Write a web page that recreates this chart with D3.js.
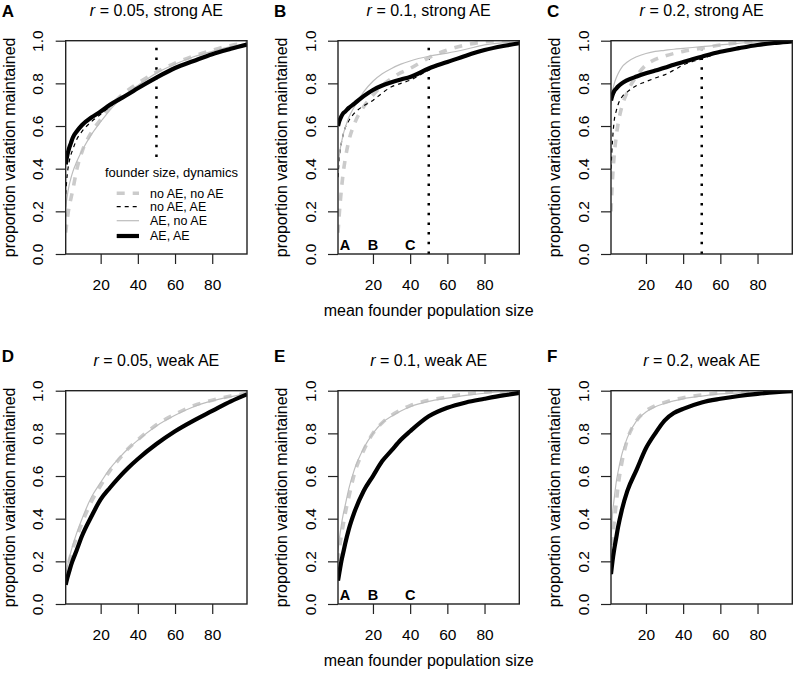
<!DOCTYPE html>
<html>
<head>
<meta charset="utf-8">
<script src="https://cdn.jsdelivr.net/npm/d3@7"></script>
<style>
  html, body { margin: 0; padding: 0; background: #fff; }
  svg { display: block; font-family: "Liberation Sans", Arial, Helvetica, sans-serif; }
</style>
</head>
<body>
<svg id="chart" width="795" height="673"></svg>
<script>
// ---------- data ----------
const xs = [1.2, 2, 3, 4, 5, 7, 10, 15, 20, 25, 30, 35, 40, 50, 60, 70, 80, 90, 98.7];

const seriesNames = ["no AE, no AE", "no AE, AE", "AE, no AE", "AE, AE"];
const legendTitle = "founder size, dynamics";
const xTicks = [20, 40, 60, 80];
const yTicks = [0, 0.2, 0.4, 0.6, 0.8, 1.0];
const xLabel = "mean founder population size";
const yLabel = "proportion variation maintained";
const panelLetters = ["A", "B", "C", "D", "E", "F"];
const rValues = ["0.05", "0.1", "0.2"];
const strengths = ["strong AE", "weak AE"];
const markLetters = ["A", "B", "C"];
const markX = [5, 20, 40];
const vlineX = 50;

// Panel A: r = 0.05, strong AE
const A_noAE_noAE = [0.10, 0.16, 0.22, 0.26, 0.30, 0.39, 0.48, 0.57, 0.63, 0.69, 0.735, 0.77, 0.80, 0.853, 0.895, 0.928, 0.955, 0.978, 0.99];
const A_noAE_AE   = [0.28, 0.37, 0.43, 0.465, 0.49, 0.535, 0.575, 0.62, 0.655, 0.69, 0.72, 0.75, 0.775, 0.825, 0.87, 0.905, 0.935, 0.96, 0.982];
const A_AE_noAE   = [0.22, 0.27, 0.32, 0.355, 0.385, 0.43, 0.485, 0.56, 0.62, 0.675, 0.72, 0.76, 0.79, 0.848, 0.89, 0.925, 0.95, 0.972, 0.985];
const A_AE_AE     = [0.42, 0.46, 0.495, 0.52, 0.545, 0.573, 0.605, 0.64, 0.668, 0.70, 0.725, 0.75, 0.777, 0.827, 0.872, 0.905, 0.937, 0.962, 0.982];

// Panel B: r = 0.1, strong AE
const B_noAE_noAE = [0.10, 0.20, 0.30, 0.38, 0.44, 0.53, 0.61, 0.69, 0.745, 0.79, 0.823, 0.85, 0.87, 0.92, 0.956, 0.98, 0.995, 1.0, 1.0];
const B_noAE_AE   = [0.36, 0.46, 0.52, 0.56, 0.59, 0.625, 0.66, 0.695, 0.72, 0.755, 0.784, 0.80, 0.815, 0.862, 0.9, 0.93, 0.956, 0.975, 0.988];
const B_AE_noAE   = [0.40, 0.47, 0.52, 0.56, 0.59, 0.64, 0.69, 0.76, 0.81, 0.845, 0.87, 0.89, 0.905, 0.927, 0.942, 0.96, 0.98, 0.99, 0.995];
const B_AE_AE     = [0.60, 0.625, 0.645, 0.66, 0.667, 0.685, 0.705, 0.74, 0.769, 0.79, 0.805, 0.818, 0.83, 0.87, 0.90, 0.93, 0.956, 0.975, 0.988];

// Panel C: r = 0.2, strong AE
const C_noAE_noAE = [0.20, 0.35, 0.47, 0.55, 0.61, 0.69, 0.76, 0.835, 0.886, 0.912, 0.928, 0.94, 0.95, 0.965, 0.98, 0.99, 0.995, 0.998, 1.0];
const C_noAE_AE   = [0.40, 0.53, 0.63, 0.67, 0.70, 0.735, 0.76, 0.79, 0.808, 0.825, 0.84, 0.862, 0.886, 0.915, 0.945, 0.965, 0.98, 0.99, 0.997];
const C_AE_noAE   = [0.70, 0.76, 0.80, 0.825, 0.845, 0.875, 0.90, 0.925, 0.94, 0.95, 0.955, 0.96, 0.964, 0.972, 0.98, 0.988, 0.994, 0.997, 0.999];
const C_AE_AE     = [0.72, 0.745, 0.765, 0.775, 0.785, 0.80, 0.815, 0.832, 0.847, 0.86, 0.873, 0.887, 0.90, 0.925, 0.948, 0.965, 0.98, 0.99, 0.997];

// Panel D: r = 0.05, weak AE
const D_noAE_noAE = [0.12, 0.16, 0.20, 0.23, 0.26, 0.31, 0.38, 0.48, 0.555, 0.625, 0.68, 0.73, 0.77, 0.84, 0.89, 0.93, 0.955, 0.975, 0.988];
const D_noAE_AE   = [0.09, 0.12, 0.15, 0.18, 0.205, 0.25, 0.32, 0.41, 0.49, 0.545, 0.595, 0.64, 0.68, 0.75, 0.81, 0.86, 0.905, 0.95, 0.983];
const D_AE_noAE   = [0.13, 0.17, 0.21, 0.245, 0.275, 0.33, 0.40, 0.50, 0.57, 0.635, 0.685, 0.73, 0.768, 0.835, 0.885, 0.925, 0.952, 0.972, 0.985];
const D_AE_AE     = [0.09, 0.12, 0.15, 0.18, 0.205, 0.25, 0.32, 0.41, 0.49, 0.545, 0.595, 0.64, 0.68, 0.75, 0.81, 0.86, 0.905, 0.95, 0.983];

// Panel E: r = 0.1, weak AE
const E_noAE_noAE = [0.20, 0.26, 0.32, 0.37, 0.42, 0.50, 0.61, 0.72, 0.80, 0.85, 0.885, 0.91, 0.93, 0.955, 0.97, 0.985, 0.993, 0.997, 1.0];
const E_noAE_AE   = [0.11, 0.15, 0.20, 0.24, 0.28, 0.35, 0.43, 0.53, 0.60, 0.67, 0.72, 0.77, 0.81, 0.88, 0.92, 0.945, 0.962, 0.978, 0.99];
const E_AE_noAE   = [0.25, 0.31, 0.37, 0.42, 0.46, 0.54, 0.63, 0.73, 0.80, 0.85, 0.88, 0.905, 0.925, 0.95, 0.965, 0.978, 0.988, 0.995, 0.998];
const E_AE_AE     = [0.11, 0.15, 0.20, 0.24, 0.28, 0.35, 0.43, 0.53, 0.60, 0.67, 0.72, 0.77, 0.81, 0.88, 0.92, 0.945, 0.962, 0.978, 0.99];

// Panel F: r = 0.2, weak AE
const F_noAE_noAE = [0.20, 0.30, 0.39, 0.47, 0.55, 0.66, 0.77, 0.86, 0.905, 0.93, 0.945, 0.958, 0.967, 0.98, 0.99, 0.995, 0.998, 1.0, 1.0];
const F_noAE_AE   = [0.14, 0.20, 0.26, 0.31, 0.36, 0.44, 0.53, 0.63, 0.73, 0.80, 0.86, 0.895, 0.915, 0.945, 0.962, 0.975, 0.985, 0.993, 0.998];
const F_AE_noAE   = [0.30, 0.42, 0.50, 0.57, 0.62, 0.70, 0.78, 0.86, 0.90, 0.925, 0.94, 0.952, 0.962, 0.975, 0.985, 0.99, 0.995, 0.998, 1.0];
const F_AE_AE     = [0.14, 0.20, 0.26, 0.31, 0.36, 0.44, 0.53, 0.63, 0.73, 0.80, 0.86, 0.895, 0.915, 0.945, 0.962, 0.975, 0.985, 0.993, 0.998];

// ---------- layout ----------
const colLeft = [65.7, 338, 611];
const rowTop = [40.7, 390.7];
const pw = 181.3, ph = 213.3;

const styles = [
  { stroke: "#cbcbcb", width: 3.6, dash: "8,8" },
  { stroke: "#000000", width: 1.2, dash: "4,4" },
  { stroke: "#bdbdbd", width: 1.2, dash: null },
  { stroke: "#000000", width: 4.2, dash: null }
];

const panels = [
  { data: [A_noAE_noAE, A_noAE_AE, A_AE_noAE, A_AE_AE], col: 0, row: 0, vline: [0.455, 1], legend: true },
  { data: [B_noAE_noAE, B_noAE_AE, B_AE_noAE, B_AE_AE], col: 1, row: 0, vline: [0, 1], marks: true, xlab: true },
  { data: [C_noAE_noAE, C_noAE_AE, C_AE_noAE, C_AE_AE], col: 2, row: 0, vline: [0, 1] },
  { data: [D_noAE_noAE, D_noAE_AE, D_AE_noAE, D_AE_AE], col: 0, row: 1 },
  { data: [E_noAE_noAE, E_noAE_AE, E_AE_noAE, E_AE_AE], col: 1, row: 1, marks: true, xlab: true },
  { data: [F_noAE_noAE, F_noAE_AE, F_AE_noAE, F_AE_AE], col: 2, row: 1 }
];

const svg = d3.select("#chart");
const x = d3.scaleLinear().domain([1.2, 98.7]).range([0, pw]);
const y = d3.scaleLinear().domain([0, 1]).range([ph, 0]);

panels.forEach((p, i) => {
  const L = colLeft[p.col], T = rowTop[p.row];
  const g = svg.append("g").attr("transform", `translate(${L},${T})`);

  // panel letter
  g.append("text")
    .attr("x", -64).attr("y", p.row === 0 ? -24 : -29)
    .attr("font-weight", "bold").attr("font-size", 17)
    .text(panelLetters[i]);

  // title
  const t = g.append("text")
    .attr("x", pw / 2).attr("y", -25)
    .attr("text-anchor", "middle").attr("font-size", 16);
  t.append("tspan").attr("font-style", "italic").text("r");
  t.append("tspan").text(` = ${rValues[p.col]}, ${strengths[p.row]}`);

  // clip
  const clipId = "clip" + i;
  g.append("clipPath").attr("id", clipId)
    .append("rect").attr("x", 0).attr("y", 0).attr("width", pw).attr("height", ph);

  // vertical dotted line
  if (p.vline) {
    g.append("line")
      .attr("x1", x(vlineX)).attr("x2", x(vlineX))
      .attr("y1", y(p.vline[0])).attr("y2", y(p.vline[1]))
      .attr("stroke", "#000").attr("stroke-width", 2.5)
      .attr("stroke-dasharray", "2.5,7.2");
  }

  // series
  const line = d3.line()
    .x((d, k) => x(xs[k]))
    .y(d => y(d))
    .curve(d3.curveMonotoneX);
  const lg = g.append("g").attr("clip-path", `url(#${clipId})`);
  p.data.forEach((vals, s) => {
    lg.append("path")
      .datum(vals)
      .attr("d", line)
      .attr("fill", "none")
      .attr("stroke", styles[s].stroke)
      .attr("stroke-width", styles[s].width)
      .attr("stroke-dasharray", styles[s].dash)
      .attr("stroke-linejoin", "round");
  });

  // A B C marks
  if (p.marks) {
    markLetters.forEach((m, k) => {
      g.append("text")
        .attr("x", x(markX[k])).attr("y", ph - 3.5)
        .attr("text-anchor", "middle")
        .attr("font-weight", "bold").attr("font-size", 14.5)
        .text(m);
    });
  }

  // axes
  const xa = g.append("g").attr("transform", `translate(0,${ph})`)
    .call(d3.axisBottom(x).tickValues(xTicks).tickSize(10).tickFormat(d3.format("d")));
  xa.select(".domain").remove();
  xa.selectAll("line").attr("stroke", "#222").attr("stroke-width", 1.2);
  xa.selectAll("text").attr("y", 36).attr("dy", 0)
    .attr("font-size", 15.5).attr("fill", "#000")
    .attr("font-family", "Liberation Sans, Arial, sans-serif");

  const ya = g.append("g")
    .call(d3.axisLeft(y).tickValues(yTicks).tickSize(10).tickFormat(d3.format(".1f")));
  ya.select(".domain").remove();
  ya.selectAll("line").attr("stroke", "#222").attr("stroke-width", 1.2);
  ya.selectAll("text")
    .attr("x", 0).attr("dy", 0)
    .attr("transform", "translate(-22.4,0) rotate(-90)")
    .attr("text-anchor", "middle")
    .attr("font-size", 15.5).attr("fill", "#000")
    .attr("font-family", "Liberation Sans, Arial, sans-serif");

  // box
  g.append("rect").attr("x", 0).attr("y", 0).attr("width", pw).attr("height", ph)
    .attr("fill", "none").attr("stroke", "#222").attr("stroke-width", 1.4);

  // y label
  g.append("text")
    .attr("transform", `translate(-50.7,${ph / 2}) rotate(-90)`)
    .attr("text-anchor", "middle").attr("font-size", 16)
    .text(yLabel);

  // x label
  if (p.xlab) {
    g.append("text")
      .attr("x", pw / 2).attr("y", ph + 62)
      .attr("text-anchor", "middle").attr("font-size", 16)
      .text(xLabel);
  }

  // legend
  if (p.legend) {
    const lgd = g.append("g");
    lgd.append("text")
      .attr("x", 105 - L).attr("y", 177 - T)
      .attr("font-size", 13).text(legendTitle);
    const rowsY = [193.3, 206.7, 220.7, 236];
    seriesNames.forEach((n, s) => {
      const yy = rowsY[s] - T;
      lgd.append("line")
        .attr("x1", 116.7 - L).attr("x2", 139 - L)
        .attr("y1", yy).attr("y2", yy)
        .attr("stroke", styles[s].stroke)
        .attr("stroke-width", styles[s].width)
        .attr("stroke-dasharray", styles[s].dash);
      lgd.append("text")
        .attr("x", 150 - L).attr("y", yy + 4.4)
        .attr("font-size", 12.5).text(n);
    });
  }
});
</script>
</body>
</html>
